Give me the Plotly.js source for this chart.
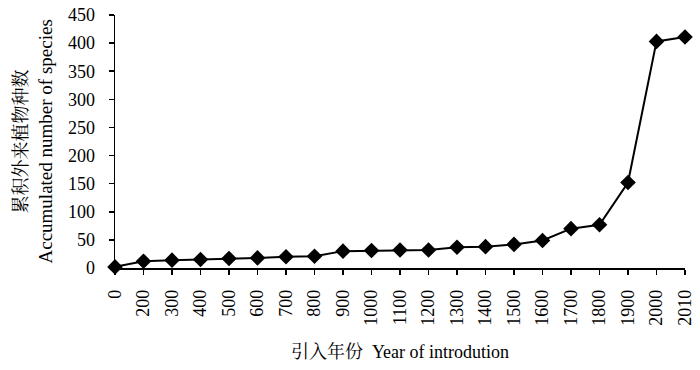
<!DOCTYPE html>
<html>
<head>
<meta charset="utf-8">
<script src="https://cdn.plot.ly/plotly-3.0.1.min.js"></script>
<style>html,body{margin:0;padding:0;background:#fff;}#chart{width:700px;height:370px;}</style>
</head>
<body>
<div id="chart"></div>
<script>
const years = ["0","200","300","400","500","600","700","800","900","1000","1100","1200","1300","1400","1500","1600","1700","1800","1900","2000","2010"];
const speciesCount = [2,12,14,15,17,18,20,21,30,31,32,32,37,38,42,49,70,77,152,403,411];
const yTickVals = [0,50,100,150,200,250,300,350,400,450];

const serif = "'Liberation Serif', 'Times New Roman', 'Noto Serif CJK SC', 'Noto Sans CJK SC', serif";

const trace = {
  x: years,
  y: speciesCount,
  type: 'scatter',
  mode: 'lines+markers',
  line: {color: '#000', width: 2},
  marker: {symbol: 'diamond', size: 12, color: '#000'},
  cliponaxis: false,
  hoverinfo: 'x+y'
};

const layout = {
  width: 700, height: 370,
  margin: {l: 115, r: 15, t: 15, b: 102},
  paper_bgcolor: '#fff', plot_bgcolor: '#fff',
  showlegend: false,
  font: {family: serif, color: '#000', size: 18},
  xaxis: {
    type: 'category',
    range: [0, 20],
    showgrid: false, zeroline: false,
    showline: true, linecolor: '#000', linewidth: 1.5,
    ticks: 'outside', ticklen: 5, tickcolor: '#000', tickwidth: 1.5,
    tickangle: -90,
    ticklabelstandoff: 8,
    tickfont: {family: serif, size: 18, color: '#000'},
    title: {text: '引入年份  Year of introdution', font: {family: serif, size: 18, color: '#000'}, standoff: 20},
    automargin: false
  },
  yaxis: {
    range: [0, 450],
    tickvals: yTickVals,
    showgrid: false, zeroline: false,
    showline: true, linecolor: '#000', linewidth: 1.5,
    ticks: 'outside', ticklen: 5, tickcolor: '#000', tickwidth: 1.5,
    ticklabelstandoff: 10,
    tickfont: {family: serif, size: 18, color: '#000'},
    automargin: false
  },
  annotations: [
    {text: '累积外来植物种数', xref: 'paper', yref: 'paper', x: (20-115)/570, y: 0.5,
     xanchor: 'center', yanchor: 'middle', textangle: -90, showarrow: false,
     font: {family: serif, size: 18, color: '#000'}},
    {text: 'Accumulated number of species', xref: 'paper', yref: 'paper', x: (45-115)/570, y: 0.5,
     xanchor: 'center', yanchor: 'middle', textangle: -90, showarrow: false,
     font: {family: serif, size: 19, color: '#000'}}
  ]
};

Plotly.newPlot('chart', [trace], layout, {displayModeBar: false, staticPlot: true});
</script>
</body>
</html>
